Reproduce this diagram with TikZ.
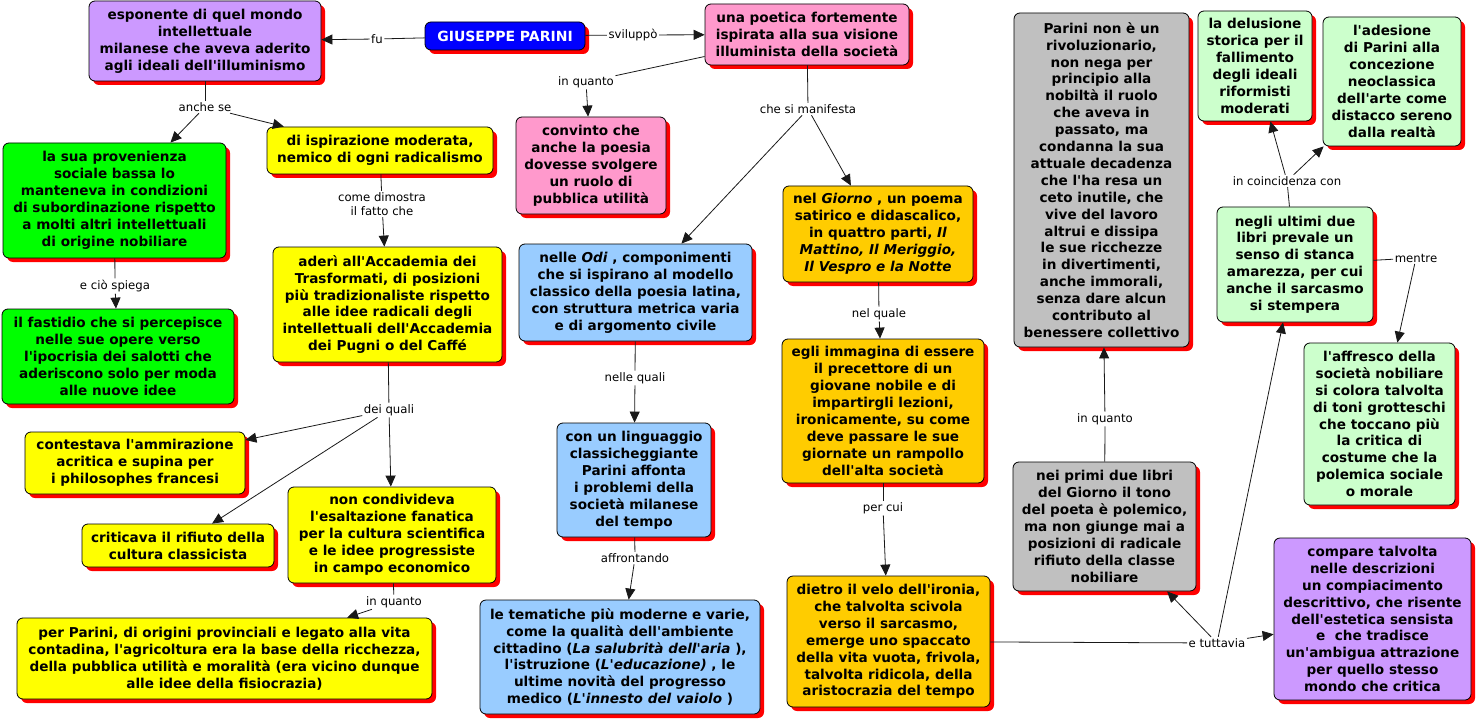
\documentclass[tikz,border=0pt]{standalone}
\usepackage{fontspec}
\setmainfont{DejaVu Sans}[Ligatures=TeXOff]
\usetikzlibrary{arrows.meta,shadows}
\definecolor{cBlue}{HTML}{0000FF}
\definecolor{cPurple}{HTML}{CC99FF}
\definecolor{cPink}{HTML}{FF99CC}
\definecolor{cGreen}{HTML}{00FF00}
\definecolor{cYellow}{HTML}{FFFF00}
\definecolor{cLBlue}{HTML}{99CCFF}
\definecolor{cOrange}{HTML}{FFCC00}
\definecolor{cGrey}{HTML}{C0C0C0}
\definecolor{cLGreen}{HTML}{CCFFCC}
\begin{document}
\begin{tikzpicture}[x=1pt,y=-1pt,
  box/.style={draw=black, line width=0.8pt, rounded corners=6pt, align=center, inner sep=2pt,
    font=\fontsize{13.6}{16.9}\selectfont\bfseries,
    drop shadow={shadow xshift=4pt,shadow yshift=-4pt,fill=red,opacity=1}},
  lab/.style={fill=white, inner sep=1.5pt, font=\fontsize{11.7}{14}\selectfont, align=center},
  con/.style={line width=0.8pt, draw=black!90},
  arr/.style={con, -{Triangle[length=11pt,width=10pt]}}]
\useasboundingbox (0,0) rectangle (1477,722);

% boxes
\node[box, fill=cBlue, text=white, font=\fontsize{14}{16}\selectfont\bfseries, minimum width=160, minimum height=28] (giu) at (505,36) {GIUSEPPE PARINI};
\node[box, fill=cPurple, minimum width=232, minimum height=80] (esp) at (205,41) {esponente di quel mondo\\intellettuale\\milanese che aveva aderito\\agli ideali dell'illuminismo};
\node[box, fill=cPink, minimum width=204, minimum height=61] (poe) at (807,34.5) {una poetica fortemente\\ispirata alla sua visione\\illuminista della società};
\node[box, fill=cPink, minimum width=150, minimum height=97] (conv) at (591,165.5) {convinto che\\anche la poesia\\dovesse svolgere\\un ruolo di\\pubblica utilità};
\node[box, fill=cGreen, minimum width=223, minimum height=115] (lasua) at (114.5,200.5) {la sua provenienza\\sociale bassa lo\\manteneva in condizioni\\di subordinazione rispetto\\a molti altri intellettuali\\di origine nobiliare};
\node[box, fill=cYellow, minimum width=226, minimum height=47] (disp) at (380,150.5) {di ispirazione moderata,\\nemico di ogni radicalismo};
\node[box, fill=cGreen, minimum width=232, minimum height=95] (fast) at (118,356.5) {il fastidio che si percepisce\\nelle sue opere verso\\l'ipocrisia dei salotti che\\aderiscono solo per moda\\alle nuove idee};
\node[box, fill=cYellow, minimum width=229, minimum height=115] (ader) at (387.5,304.5) {aderì all'Accademia dei\\Trasformati, di posizioni\\più tradizionaliste rispetto\\alle idee radicali degli\\intellettuali dell'Accademia\\dei Pugni o del Caffé};
\node[box, fill=cYellow, minimum width=220, minimum height=62] (cont) at (135,463) {contestava l'ammirazione\\acritica e supina per\\i philosophes francesi};
\node[box, fill=cYellow, minimum width=192, minimum height=43] (crit) at (178,545.5) {criticava il rifiuto della\\cultura classicista};
\node[box, fill=cYellow, minimum width=208, minimum height=96] (nonc) at (392,535) {non condivideva\\l'esaltazione fanatica\\per la cultura scientifica\\e le idee progressiste\\in campo economico};
\node[box, fill=cYellow, minimum width=415, minimum height=81] (perp) at (224.5,658.5) {per Parini, di origini provinciali e legato alla vita\\contadina, l'agricoltura era la base della ricchezza,\\della pubblica utilità e moralità (era vicino dunque\\alle idee della fisiocrazia)};
\node[box, fill=cLBlue, minimum width=233, minimum height=97] (odi) at (635.5,292.5) {nelle \textit{Odi} , componimenti\\che si ispirano al modello\\classico della poesia latina,\\con struttura metrica varia\\e di argomento civile};
\node[box, fill=cLBlue, minimum width=154, minimum height=114] (ling) at (634,480) {con un linguaggio\\classicheggiante\\Parini affonta\\i problemi della\\società milanese\\del tempo};
\node[box, fill=cLBlue, minimum width=280, minimum height=114] (tem) at (620,657) {le tematiche più moderne e varie,\\come la qualità dell'ambiente\\cittadino (\textit{La salubrità dell'aria} ),\\l'istruzione (\textit{L'educazione)} , le\\ultime novità del progresso\\medico (\textit{L'innesto del vaiolo} )};
\node[box, fill=cOrange, minimum width=190, minimum height=96] (gio) at (878,234) {nel \textit{Giorno} , un poema\\satirico e didascalico,\\in quattro parti, \textit{Il}\\\textit{Mattino, Il Meriggio,}\\\textit{Il Vespro e la Notte}};
\node[box, fill=cOrange, minimum width=202, minimum height=144] (egli) at (883,411) {egli immagina di essere\\il precettore di un\\giovane nobile e di\\impartirgli lezioni,\\ironicamente, su come\\deve passare le sue\\giornate un rampollo\\dell'alta società};
\node[box, fill=cOrange, minimum width=203, minimum height=131] (diet) at (888.5,641.5) {dietro il velo dell'ironia,\\che talvolta scivola\\verso il sarcasmo,\\emerge uno spaccato\\della vita vuota, frivola,\\talvolta ridicola, della\\aristocrazia del tempo};
\node[box, fill=cGrey, minimum width=175, minimum height=334] (pnon) at (1101.5,180) {Parini non è un\\rivoluzionario,\\non nega per\\principio alla\\nobiltà il ruolo\\che aveva in\\passato, ma\\condanna la sua\\attuale decadenza\\che l'ha resa un\\ceto inutile, che\\vive del lavoro\\altrui e dissipa\\le sue ricchezze\\in divertimenti,\\anche immorali,\\senza dare alcun\\contributo al\\benessere collettivo};
\node[box, fill=cGrey, minimum width=183, minimum height=129] (prim) at (1104.5,526.5) {nei primi due libri\\del Giorno il tono\\del poeta è polemico,\\ma non giunge mai a\\posizioni di radicale\\rifiuto della classe\\nobiliare};
\node[box, fill=cLGreen, minimum width=114, minimum height=110] (del) at (1255,66) {la delusione\\storica per il\\fallimento\\degli ideali\\riformisti\\moderati};
\node[box, fill=cLGreen, minimum width=138, minimum height=129] (ades) at (1392,81.5) {l'adesione\\di Parini alla\\concezione\\neoclassica\\dell'arte come\\distacco sereno\\dalla realtà};
\node[box, fill=cLGreen, minimum width=156, minimum height=115] (ult) at (1295,264.5) {negli ultimi due\\libri prevale un\\senso di stanca\\amarezza, per cui\\anche il sarcasmo\\si stempera};
\node[box, fill=cLGreen, minimum width=151, minimum height=162] (aff) at (1379.5,424) {l'affresco della\\società nobiliare\\si colora talvolta\\di toni grotteschi\\che toccano più\\la critica di\\costume che la\\polemica sociale\\o morale};
\node[box, fill=cPurple, minimum width=197, minimum height=162] (comp) at (1372.5,619) {compare talvolta\\nelle descrizioni\\un compiacimento\\descrittivo, che risente\\dell'estetica sensista\\e\ \ che tradisce\\un'ambigua attrazione\\per quello stesso\\mondo che critica};

% labels
\node[lab] (lfu) at (377,39) {fu};
\node[lab] (lsvi) at (633,35) {sviluppò};
\node[lab] (liq1) at (586,82) {in quanto};
\node[lab] (lman) at (808,109) {che si manifesta};
\node[lab] (lanc) at (205,107) {anche se};
\node[lab] (lcome) at (382,204) {come dimostra\\il fatto che};
\node[lab] (lcio) at (115,286) {e ciò spiega};
\node[lab] (ldei) at (389,410) {dei quali};
\node[lab] (liq2) at (394,602) {in quanto};
\node[lab] (lnq) at (635,378) {nelle quali};
\node[lab] (laff) at (635,558) {affrontando};
\node[lab] (lnq2) at (879,314) {nel quale};
\node[lab] (lpc) at (883,508) {per cui};
\node[lab] (ltut) at (1217,643) {e tuttavia};
\node[lab] (liq3) at (1105,419) {in quanto};
\node[lab] (lcoin) at (1287,181) {in coincidenza con};
\node[lab] (lment) at (1416,258) {mentre};

% connectors
\draw[con] (giu) -- (lfu); \draw[arr] (lfu) -- (esp);
\draw[con] (giu) -- (lsvi); \draw[arr] (lsvi) -- (poe);
\draw[con] (poe) -- (liq1); \draw[arr] (liq1) -- (conv);
\draw[con] (poe) -- (lman); \draw[arr] (lman) -- (odi); \draw[arr] (lman) -- (gio);
\draw[con] (esp) -- (lanc); \draw[arr] (lanc) -- (lasua); \draw[arr] (lanc) -- (disp);
\draw[con] (disp) -- (lcome); \draw[arr] (lcome) -- (ader);
\draw[con] (lasua) -- (lcio); \draw[arr] (lcio) -- (fast);
\draw[con] (ader) -- (ldei); \draw[arr] (ldei) -- (cont); \draw[arr] (ldei) -- (crit); \draw[arr] (ldei) -- (nonc);
\draw[con] (nonc) -- (liq2); \draw[arr] (liq2) -- (perp);
\draw[con] (odi) -- (lnq); \draw[arr] (lnq) -- (ling);
\draw[con] (ling) -- (laff); \draw[arr] (laff) -- (tem);
\draw[con] (gio) -- (lnq2); \draw[arr] (lnq2) -- (egli);
\draw[con] (egli) -- (lpc); \draw[arr] (lpc) -- (diet);
\draw[con] (diet) -- (ltut); \draw[arr] (ltut) -- (prim); \draw[arr] (ltut) -- (ult); \draw[arr] (ltut) -- (comp);
\draw[con] (prim) -- (liq3); \draw[arr] (liq3) -- (pnon);
\draw[con] (ult) -- (lcoin); \draw[arr] (lcoin) -- (del); \draw[arr] (lcoin) -- (ades);
\draw[con] (ult) -- (lment); \draw[arr] (lment) -- (aff);
\end{tikzpicture}
\end{document}
